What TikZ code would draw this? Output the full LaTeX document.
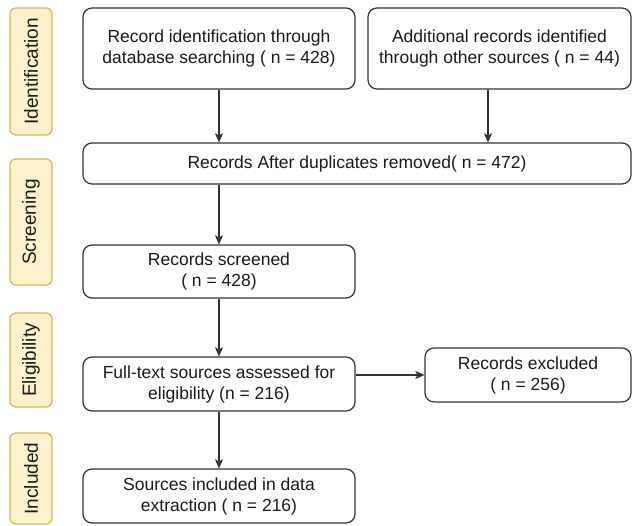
\documentclass[tikz,border=0pt]{standalone}
\usepackage{fontspec}
\setmainfont{Liberation Sans}
\usetikzlibrary{arrows.meta}
\definecolor{lblfill}{HTML}{FFF2CC}
\definecolor{lbldraw}{HTML}{D6B656}
\definecolor{boxdraw}{HTML}{333333}
\definecolor{txt}{HTML}{1A1A1A}
\begin{document}
\begin{tikzpicture}[x=1pt,y=-1pt,
  flowbox/.style={draw=boxdraw, line width=1.2pt, rounded corners=9pt, fill=white,
    align=center, inner sep=2pt, text=txt,
    font=\fontsize{17.5}{21}\selectfont},
  stagelabel/.style={draw=lbldraw, line width=1.2pt, fill=lblfill, rounded corners=6pt,
    rotate=90, inner sep=0pt, text=txt, font=\fontsize{19}{23}\selectfont,
    minimum height=42pt},
  arr/.style={draw=boxdraw, line width=1.2pt, -{Stealth[length=9pt,width=8pt,inset=2pt]}}
]
\useasboundingbox (0,0) rectangle (632,526);

% stage labels
\node[stagelabel, minimum width=127pt] (lid) at (31,71.5) {Identification};
\node[stagelabel, minimum width=126pt] (lsc) at (31,222) {Screening};
\node[stagelabel, minimum width=94pt] (lel) at (31,360) {Eligibility};
\node[stagelabel, minimum width=91pt] (lin) at (31,478.5) {Included};

% boxes
\node[flowbox, minimum width=272pt, minimum height=81pt] (b1) at (219,48.5)
  {Record identification through\\database searching ( n = 428)};
\node[flowbox, minimum width=263pt, minimum height=81pt] (b2) at (499.5,48.5)
  {Additional records identified\\through other sources ( n = 44)};
\node[flowbox, minimum width=548pt, minimum height=41pt] (b3) at (357,163.5)
  {Records After duplicates removed( n = 472)};
\node[flowbox, minimum width=272pt, minimum height=53pt] (b4) at (219,271.5)
  {Records screened\\( n = 428)};
\node[flowbox, minimum width=272pt, minimum height=54pt] (b5) at (219,384)
  {Full-text sources assessed for\\eligibility (n = 216)};
\node[flowbox, minimum width=206pt, minimum height=54pt] (b6) at (528,375)
  {Records excluded\\( n = 256)};
\node[flowbox, minimum width=272pt, minimum height=54pt] (b7) at (219,496)
  {Sources included in data\\extraction ( n = 216)};

% connectors
\coordinate (a2) at (488,0);
\draw[arr] (b1.south) -- (b1.south |- b3.north);
\draw[arr] (b2.south -| a2) -- (b3.north -| a2);
\draw[arr] (b3.south -| b4.north) -- (b4.north);
\draw[arr] (b4.south) -- (b5.north);
\draw[arr] (b6.west -| b5.east) -- (b6.west);
\draw[arr] (b5.south) -- (b7.north);
\end{tikzpicture}
\end{document}
